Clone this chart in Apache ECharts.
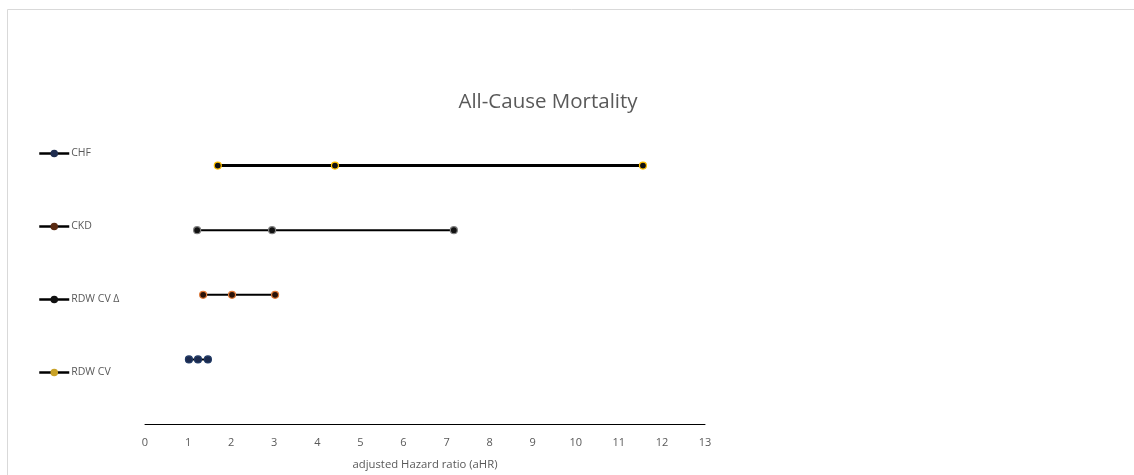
<!DOCTYPE html>
<html>
<head>
<meta charset="utf-8">
<script src="https://cdn.jsdelivr.net/npm/echarts@6/dist/echarts.min.js"></script>
<style>html,body{margin:0;padding:0;background:#fff;}#chart{width:1134px;height:475px;}</style>
</head>
<body>
<div id="chart"></div>
<script>
// Data (aHR: lower CI, point estimate, upper CI)
const categories = ["CHF", "CKD", "RDW CV Δ", "RDW CV"];
const rowPositions = [4, 3, 2, 1];
const chfValues = [1.69, 4.41, 11.56];
const ckdValues = [1.21, 2.95, 7.17];
const rdwDeltaValues = [1.35, 2.02, 3.02];
const rdwCvValues = [1.02, 1.23, 1.46];
const xTicks = [0,1,2,3,4,5,6,7,8,9,10,11,12,13];

const valueSets = [chfValues, ckdValues, rdwDeltaValues, rdwCvValues];
const legendColors = ["#1f2d4f", "#5a2a12", "#111111", "#c9a227"];
const markerFill = ["#111111", "#111111", "#2a1208", "#1b2a4e"];
const markerBorder = ["#ffc000", "#7f7f7f", "#e07b39", "#1f3864"];
const lineWidths = [3, 2, 2, 2];

const series = categories.map((name, i) => ({
  name: name,
  type: 'line',
  symbol: 'circle',
  symbolSize: 7,
  lineStyle: { color: '#000', width: lineWidths[i] },
  itemStyle: { color: legendColors[i], borderColor: legendColors[i], borderWidth: 1 },
  emphasis: { disabled: true },
  data: valueSets[i].map(v => ({
    value: [v, rowPositions[i]],
    itemStyle: { color: markerFill[i], borderColor: markerBorder[i], borderWidth: 1.2 }
  }))
}));

const chart = echarts.init(document.getElementById('chart'));
chart.setOption({
  animation: false,
  backgroundColor: '#fff',
  title: {
    text: 'All-Cause Mortality',
    left: 543, top: 87, textAlign: 'center',
    textStyle: { fontFamily: 'Open Sans', fontSize: 20.5, fontWeight: 'normal', color: '#595959' }
  },
  legend: {
    orient: 'vertical',
    left: 33, top: 143,
    itemWidth: 30, itemHeight: 7,
    itemGap: 62,
    data: categories.map(n => ({ name: n, itemStyle: {}, lineStyle: { width: 2.5, color: '#000' } })),
    textStyle: { fontFamily: 'Open Sans', fontSize: 10.5, color: '#595959', padding: [0,0,0,-3] }
  },
  graphic: [{
    type: 'rect', silent: true,
    shape: { x: 7.5, y: 9.5, width: 1300, height: 600 },
    style: { fill: 'none', stroke: '#d9d9d9', lineWidth: 1 }
  }],
  grid: { left: 145, right: 429, top: 101, bottom: 49 },
  xAxis: {
    type: 'value', min: xTicks[0], max: xTicks[xTicks.length - 1], interval: 1,
    name: 'adjusted Hazard ratio (aHR)', nameLocation: 'middle', nameGap: 35,
    nameTextStyle: { fontFamily: 'Open Sans', fontSize: 11.3, color: '#595959' },
    axisLine: { lineStyle: { color: '#000', width: 1 } },
    axisTick: { show: false },
    splitLine: { show: false },
    axisLabel: { margin: 13, fontFamily: 'Open Sans', fontSize: 11, color: '#595959' }
  },
  yAxis: {
    type: 'value', min: 0, max: 5, show: false,
    splitLine: { show: false }
  },
  series: series
});
</script>
</body>
</html>
